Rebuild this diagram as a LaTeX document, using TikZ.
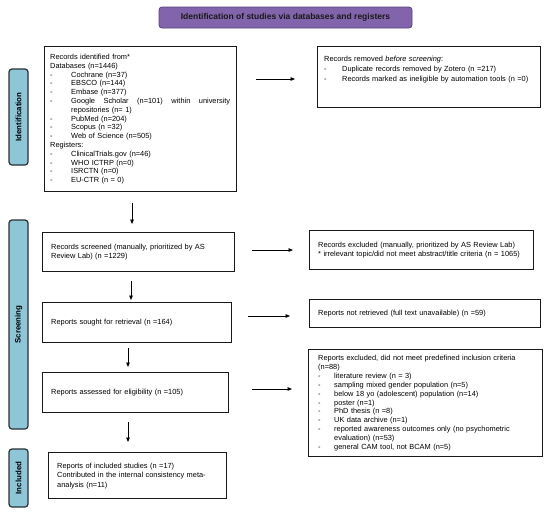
\documentclass[tikz,border=0pt]{standalone}
\usepackage{fontspec}
\setmainfont{Liberation Sans}
\usetikzlibrary{arrows.meta,calc}
\definecolor{sidefill}{RGB}{142,198,216}
\definecolor{sideline}{RGB}{40,48,52}
\definecolor{banfill}{RGB}{130,100,172}
\definecolor{banline}{RGB}{88,66,124}
\newcommand{\myitem}[2][21pt]{\par\noindent\hangindent=#1\hangafter=1 \makebox[#1][l]{-}#2}
\newcommand{\fsz}{\fontsize{7.4}{8.9}\selectfont}
\begin{document}
\begin{tikzpicture}[x=1pt,y=-1pt,
  frame/.style={draw=black!90, line width=1.2pt, inner sep=0pt, anchor=north west},
  txt/.style={inner sep=0pt, font=\fsz, align=left, text width=#1},
  txt/.default=240pt,
  side/.style={draw=sideline, fill=sidefill, line width=1.2pt, rounded corners=3pt,
    rotate=90, inner sep=0pt, minimum height=19pt, font=\bfseries\fontsize{7.9}{8}\selectfont},
  banner/.style={draw=banline, fill=banfill, line width=0.8pt, rounded corners=3pt,
    inner sep=0pt, text=black!90, font=\bfseries\fontsize{8.5}{9}\selectfont},
  arr/.style={-{Triangle[length=4.5pt,width=3.6pt]}, line width=0.75pt},
]
\useasboundingbox (0,0) rectangle (550,515);

% banner and side labels
\node[banner, minimum width=253pt, minimum height=21pt] (ban) at (285.5,17.5)
  {Identification of studies via databases and registers};
\node[side, minimum width=96pt] (sid) at (18.5,117) {Identification};
\node[side, minimum width=209pt] (sscr) at (18.5,324.5) {Screening};
\node[side, minimum width=58pt] (sinc) at (18.5,478) {Included};

% frames
\node[frame, minimum width=192pt, minimum height=145pt] (ident) at (44,46) {};
\node[frame, minimum width=223pt, minimum height=61pt] (removed) at (317,46) {};
\node[frame, minimum width=192pt, minimum height=39pt] (screened) at (42,232) {};
\node[frame, minimum width=224pt, minimum height=39pt] (excl) at (309,230) {};
\node[frame, minimum width=189pt, minimum height=40pt] (sought) at (42,302) {};
\node[frame, minimum width=231pt, minimum height=28pt] (notret) at (309,299) {};
\node[frame, minimum width=186pt, minimum height=40pt] (assessed) at (42,372) {};
\node[frame, minimum width=234pt, minimum height=107pt] (repexcl) at (308,349) {};
\node[frame, minimum width=178pt, minimum height=46pt] (included) at (48,452) {};

% texts
\node[txt=180pt, anchor=west, font=\fontsize{7.4}{8.8}\selectfont] (identt) at ([xshift=6pt]ident.west) {%
  Records identified from*\par
  Databases (n=1446)
  \myitem{Cochrane (n=37)}
  \myitem{EBSCO (n=144)}
  \myitem{Embase (n=377)}
  \myitem{Google\hfill Scholar\hfill (n=101)\hfill within\hfill university\newline repositories (n= 1)}
  \myitem{PubMed (n=204)}
  \myitem{Scopus (n =32)}
  \myitem{Web of Science (n=505)}
  \par\noindent Registers:
  \myitem{ClinicalTrials.gov (n=46)}
  \myitem{WHO ICTRP (n=0)}
  \myitem{ISRCTN (n=0)}
  \myitem{EU-CTR (n = 0)}};
\node[txt, anchor=north west, font=\fontsize{7.4}{10}\selectfont] (removedt)
  at ([xshift=7pt,yshift=-10pt]removed.north west) {%
  Records removed \textit{before screening}:
  \myitem[18pt]{Duplicate records removed by Zotero (n =217)}
  \myitem[18pt]{Records marked as ineligible by automation tools (n =0)}};
\node[txt, anchor=west] (screenedt) at ([xshift=9pt]screened.west)
  {Records screened (manually, prioritized by AS\\Review Lab) (n =1229)};
\node[txt, anchor=west, font=\fontsize{7.4}{8.3}\selectfont] (exclt) at ([xshift=9pt]excl.west)
  {Records excluded (manually, prioritized by AS Review Lab)\\** irrelevant topic/did not meet abstract/title criteria (n = 1065)};
\node[txt, anchor=west] (soughtt) at ([xshift=9pt]sought.west)
  {Reports sought for retrieval (n =164)};
\node[txt, anchor=west] (notrett) at ([xshift=9pt]notret.west)
  {Reports not retrieved (full text unavailable) (n =59)};
\node[txt, anchor=west] (assessedt) at ([xshift=9pt]assessed.west)
  {Reports assessed for eligibility (n =105)};
\node[txt, anchor=west] (repexclt) at ([xshift=10pt]repexcl.west) {%
  Reports excluded, did not meet predefined inclusion criteria\\(n=88)
  \myitem[16pt]{literature review (n = 3)}
  \myitem[16pt]{sampling mixed gender population (n=5)}
  \myitem[16pt]{below 18 yo (adolescent) population (n=14)}
  \myitem[16pt]{poster (n=1)}
  \myitem[16pt]{PhD thesis (n =8)}
  \myitem[16pt]{UK data archive (n=1)}
  \myitem[16pt]{reported awareness outcomes only (no psychometric\newline evaluation) (n=53)}
  \myitem[16pt]{general CAM tool, not BCAM (n=5)}};
\node[txt, anchor=west, font=\fontsize{7.4}{9.5}\selectfont] (includedt) at ([xshift=9pt]included.west)
  {Reports of included studies (n =17)\\Contributed in the internal consistency meta-\\analysis (n=11)};

% horizontal connectors
\draw[arr, shorten <=19pt, shorten >=22pt] (ident.east |- 0,79) -- (removed.west |- 0,79);
\draw[arr, shorten <=17pt, shorten >=16pt] (screened.east |- 0,250) -- (excl.west |- 0,250);
\draw[arr, shorten <=16pt, shorten >=19pt] (sought.east |- 0,316) -- (notret.west |- 0,316);
\draw[arr, shorten <=23pt, shorten >=16pt] (assessed.east |- 0,389) -- (repexcl.west |- 0,389);
% vertical connectors
\draw[arr, shorten <=11pt, shorten >=8pt] (ident.south -| 132,0) -- (screened.north -| 132,0);
\draw[arr, shorten <=9pt, shorten >=2pt] (screened.south -| 131,0) -- (sought.north -| 131,0);
\draw[arr, shorten <=5pt, shorten >=5pt] (sought.south -| 128,0) -- (assessed.north -| 128,0);
\draw[arr, shorten <=9pt, shorten >=10pt] (assessed.south -| 128,0) -- (included.north -| 128,0);
\end{tikzpicture}
\end{document}
